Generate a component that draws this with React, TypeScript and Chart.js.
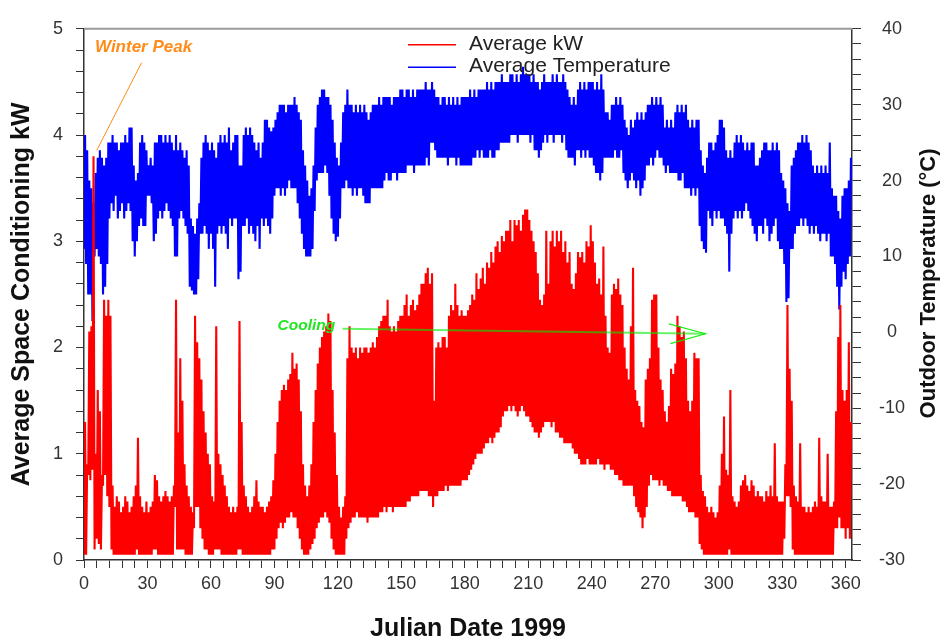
import React, { useEffect, useRef } from 'react';
import { Chart, registerables } from 'chart.js';

Chart.register(...registerables);

// ---- Data (daily envelope, day 0..362) ----
const kwHigh = [
  1.3, 0.9, 2.15, 2.2, 3.8, 1.0, 1.6, 1.4, 0.8, 2.45,
  2.3, 2.45, 2.3, 0.7, 0.5, 0.6, 0.55, 0.45, 0.5, 0.6,
  0.55, 0.45, 0.5, 0.6, 0.7, 1.15, 0.6, 0.5, 0.45, 0.55,
  0.45, 0.5, 0.55, 0.8, 0.75, 0.6, 0.55, 0.6, 0.65, 0.6,
  0.55, 0.6, 0.7, 2.45, 1.2, 1.9, 1.5, 0.9, 0.7, 0.6,
  0.5, 0.45, 2.3, 2.05, 1.9, 1.7, 1.4, 1.2, 1.0, 0.9,
  0.6, 0.55, 2.2, 1.0, 0.9, 0.8, 0.7, 0.6, 0.5, 0.45,
  0.5, 0.45, 0.5, 2.25, 1.3, 0.7, 0.6, 0.5, 0.45, 0.5,
  0.6, 0.75, 0.55, 0.5, 0.5, 0.45, 0.5, 0.55, 0.6, 0.75,
  1.0, 1.3, 1.5, 1.6, 1.65, 1.6, 1.7, 1.75, 1.95, 1.8,
  1.85, 1.7, 1.4, 0.9, 0.7, 0.6, 0.7, 0.9, 1.3, 1.6,
  1.85, 2.0, 2.1, 2.15, 2.2, 2.32, 2.25, 1.6, 1.2, 0.8,
  0.5, 0.4, 0.5, 0.6, 1.9, 2.2, 2.0, 1.95, 2.0, 1.9,
  2.0, 1.95, 2.0, 2.0, 1.95, 2.0, 2.05, 2.0, 2.1, 2.2,
  2.25, 2.3, 2.3, 2.45, 2.2, 2.15, 2.2, 2.15, 2.25, 2.3,
  2.3, 2.4, 2.5, 2.3, 2.4, 2.45, 2.35, 2.4, 2.5, 2.6,
  2.6, 2.7, 2.75, 2.6, 2.7, 1.5, 2.0, 2.05, 2.0, 2.1,
  2.1, 2.0, 2.3, 2.4, 2.35, 2.6, 2.4, 2.3, 2.35, 2.3,
  2.3, 2.35, 2.4, 2.5, 2.45, 2.7, 2.55, 2.65, 2.75, 2.6,
  2.8, 2.75, 2.9, 2.8, 2.95, 3.0, 2.9, 3.05, 3.0, 3.1,
  3.1, 3.2, 3.0, 3.2, 3.15, 3.2, 3.1, 3.25, 3.3, 3.3,
  3.2, 3.1, 3.0, 2.9, 2.7, 2.45, 2.4, 2.5, 3.1, 2.6,
  3.0, 3.1, 2.95, 3.1, 3.0, 3.1, 2.9, 3.0, 2.8, 2.9,
  2.6, 2.55, 2.7, 2.9, 2.85, 2.9, 2.8, 3.0, 2.95, 3.15,
  3.0, 2.8, 2.6, 2.65, 2.5, 2.95, 2.3, 2.0, 1.95, 2.5,
  2.6, 2.55, 2.65, 2.5, 2.4, 2.0, 1.8, 1.7, 2.2, 2.75,
  1.6, 1.5, 1.45, 1.3, 1.25, 1.7, 1.8, 1.9, 2.45, 2.5,
  2.5, 2.0, 1.7, 1.6, 1.4, 1.3, 1.45, 1.8, 1.75, 1.85,
  2.3, 2.2, 2.1, 2.15, 1.9, 1.5, 1.4, 1.5, 1.95, 1.9,
  1.9, 0.8, 0.65, 0.6, 0.5, 0.45, 0.5, 0.45, 0.4, 0.45,
  0.7, 1.0, 1.35, 0.85, 0.8, 1.6, 0.6, 0.55, 0.5, 0.55,
  0.7, 0.75, 0.8, 0.7, 0.65, 0.75, 0.7, 0.6, 0.65, 0.6,
  0.6, 0.55, 0.65, 0.6, 0.7, 0.6, 1.1, 0.6, 0.55, 0.55,
  0.55, 0.9, 2.4, 1.8, 1.5, 0.7, 0.6, 0.55, 1.1, 0.5,
  0.5, 0.45, 0.5, 0.45, 0.5, 0.55, 0.5, 1.15, 0.6, 0.55,
  0.55, 1.0, 0.5, 0.5, 0.55, 1.4, 2.1, 2.4, 1.6, 1.5,
  1.6, 2.05, 1.3,
];

const kwLow = [
  0.05, 0.05, 0.8, 0.75, 0.85, 0.1, 0.2, 0.15, 0.1, 0.7,
  0.8, 0.6, 0.5, 0.1, 0.05, 0.05, 0.05, 0.05, 0.05, 0.05,
  0.05, 0.05, 0.05, 0.05, 0.05, 0.1, 0.05, 0.05, 0.05, 0.05,
  0.05, 0.05, 0.05, 0.1, 0.1, 0.05, 0.05, 0.05, 0.05, 0.05,
  0.05, 0.05, 0.05, 0.5, 0.1, 0.1, 0.1, 0.1, 0.05, 0.05,
  0.05, 0.05, 0.3, 0.5, 0.5, 0.3, 0.2, 0.1, 0.1, 0.05,
  0.05, 0.05, 0.1, 0.1, 0.1, 0.05, 0.05, 0.05, 0.05, 0.05,
  0.05, 0.05, 0.05, 0.1, 0.1, 0.05, 0.05, 0.05, 0.05, 0.05,
  0.05, 0.05, 0.05, 0.05, 0.05, 0.05, 0.05, 0.05, 0.05, 0.1,
  0.1, 0.2, 0.3, 0.35, 0.3, 0.35, 0.4, 0.4, 0.45, 0.4,
  0.4, 0.3, 0.2, 0.1, 0.05, 0.05, 0.05, 0.1, 0.15, 0.2,
  0.3, 0.35, 0.4, 0.4, 0.45, 0.4, 0.35, 0.2, 0.1, 0.05,
  0.05, 0.05, 0.05, 0.05, 0.2, 0.3, 0.35, 0.4, 0.4, 0.45,
  0.4, 0.4, 0.4, 0.4, 0.35, 0.4, 0.4, 0.4, 0.4, 0.4,
  0.45, 0.45, 0.5, 0.45, 0.5, 0.5, 0.45, 0.5, 0.5, 0.5,
  0.5, 0.5, 0.5, 0.55, 0.55, 0.6, 0.6, 0.6, 0.6, 0.65,
  0.65, 0.65, 0.65, 0.6, 0.6, 0.5, 0.6, 0.6, 0.65, 0.65,
  0.65, 0.7, 0.65, 0.7, 0.7, 0.7, 0.7, 0.7, 0.7, 0.75,
  0.75, 0.75, 0.8, 0.85, 0.9, 0.95, 1.0, 1.0, 1.0, 1.05,
  1.1, 1.1, 1.15, 1.1, 1.15, 1.2, 1.2, 1.25, 1.35, 1.4,
  1.4, 1.45, 1.4, 1.45, 1.4, 1.35, 1.4, 1.45, 1.4, 1.35,
  1.35, 1.3, 1.25, 1.2, 1.2, 1.15, 1.2, 1.25, 1.3, 1.3,
  1.3, 1.25, 1.3, 1.2, 1.2, 1.15, 1.15, 1.1, 1.1, 1.1,
  1.1, 1.05, 1.0, 1.0, 0.95, 0.9, 0.9, 0.9, 0.95, 0.9,
  0.9, 0.9, 0.9, 0.95, 0.9, 0.9, 0.85, 0.9, 0.9, 0.85,
  0.85, 0.8, 0.8, 0.75, 0.75, 0.7, 0.7, 0.7, 0.7, 0.7,
  0.6, 0.5, 0.45, 0.4, 0.3, 0.4, 0.5, 0.7, 0.8, 0.75,
  0.75, 0.75, 0.7, 0.75, 0.7, 0.7, 0.65, 0.65, 0.6, 0.6,
  0.6, 0.6, 0.6, 0.55, 0.55, 0.5, 0.45, 0.45, 0.45, 0.4,
  0.4, 0.15, 0.1, 0.05, 0.05, 0.05, 0.05, 0.05, 0.05, 0.05,
  0.05, 0.05, 0.05, 0.05, 0.05, 0.1, 0.05, 0.05, 0.05, 0.05,
  0.05, 0.05, 0.05, 0.05, 0.05, 0.05, 0.05, 0.05, 0.05, 0.05,
  0.05, 0.05, 0.05, 0.05, 0.05, 0.05, 0.05, 0.05, 0.05, 0.05,
  0.05, 0.2, 0.6, 0.6, 0.5, 0.1, 0.05, 0.05, 0.05, 0.05,
  0.05, 0.05, 0.05, 0.05, 0.05, 0.05, 0.05, 0.05, 0.05, 0.05,
  0.05, 0.05, 0.05, 0.05, 0.05, 0.3, 0.3, 0.4, 0.3, 0.3,
  0.2, 0.3, 0.2,
];

const tempHigh = [
  26, 24, 20, 19, 17, 21, 23, 24, 23, 22,
  23, 25, 25, 26, 25, 25, 24, 25, 25, 26,
  25, 27, 27, 22, 20, 21, 25, 26, 25, 24,
  22, 23, 22, 25, 25, 26, 26, 25, 26, 25,
  26, 25, 24, 26, 24, 25, 24, 23, 24, 22,
  15, 14, 13, 15, 17, 23, 25, 26, 25, 24,
  25, 24, 23, 25, 26, 25, 26, 25, 27, 24,
  25, 26, 26, 22, 22, 26, 27, 26, 27, 26,
  25, 24, 25, 23, 25, 28, 28, 27, 26.5, 27,
  28, 29, 30, 30, 30, 29, 30, 30, 30, 31,
  30, 29, 28, 24, 22, 20, 18, 19, 22, 27,
  30, 31, 32, 32, 31, 31, 30, 28, 25, 23,
  22, 25, 29, 30, 32, 30, 30, 29, 30, 29,
  30, 29, 30, 29, 28, 29, 30, 30, 30, 31,
  30, 31, 31, 31, 31, 30, 31, 31, 31, 32,
  32, 31, 32, 32, 31, 32, 31, 32, 32, 32,
  32, 33, 32, 32, 33, 32, 31, 31, 30, 31,
  31, 30, 31, 30, 31, 30, 31, 30, 31, 31,
  31, 31, 32, 31, 32, 31, 32, 32, 32, 32,
  33, 32, 33, 32, 33, 33, 33, 34, 33, 33,
  33, 34, 34, 33, 34, 33, 34, 35, 34, 34,
  34, 33, 34, 33, 33, 32, 33, 34, 33, 33,
  33, 34, 33, 34, 33, 33, 34, 33, 32, 31,
  30, 31, 30, 32, 33, 32, 33, 32, 33, 33,
  33, 32, 33, 32, 34, 32, 29, 29, 28, 30,
  30, 31, 30, 31, 30, 28, 27, 26, 28, 27,
  28, 29, 28, 29, 28, 29, 30, 30, 31, 30,
  31, 30, 31, 30, 27, 28, 27, 28, 27, 29,
  30, 29, 30, 29, 30, 28, 27, 28, 27, 28,
  28, 24, 22, 21, 23, 25, 25, 24, 25, 26,
  28, 28, 27, 24, 23, 24, 23, 25, 26, 25,
  26, 25, 24, 25, 24, 25, 25, 22, 22, 23,
  24, 25, 25, 24, 24, 25, 24, 25, 24, 21,
  20, 19, 17, 16, 22, 23, 24, 25, 25, 26,
  25, 26, 25, 24, 22, 21, 22, 21, 22, 21,
  22, 21, 25, 19, 18, 18, 16, 15, 18, 19,
  19, 20, 23,
];

const tempLow = [
  11, 9, 5, 5, 1.5, 10, 11, 10, 9, 5,
  6, 9, 15, 17, 16, 18, 15, 16, 17, 15,
  16, 17, 16, 12, 10, 12, 14, 15, 14, 14,
  18, 18, 17, 12, 13, 15, 16, 15, 16, 17,
  16, 15, 14, 10, 10, 15, 16, 15, 14, 13,
  6, 5.5, 5, 5, 7, 13, 13, 14, 13, 11,
  13, 11, 6, 13, 14, 13, 14, 13, 11, 15,
  14, 15, 15, 7, 8, 14, 14, 15, 13, 14,
  13, 12, 14, 11, 15, 14, 15, 14, 13, 15,
  18, 19, 19, 18, 19, 18, 19, 20, 19, 19,
  19, 17, 15, 13, 11, 10, 10, 10, 11, 16,
  20, 21, 21, 21, 22, 21, 18, 15, 13, 12,
  12.6, 15, 19, 19, 20, 19, 19, 18, 19, 18,
  19, 19, 18, 17, 17, 17, 19, 19, 19, 19,
  19, 19, 20, 21, 20, 20, 21, 21, 20, 21,
  21, 21, 21, 22, 22, 22, 21, 22, 22, 22,
  22, 22, 23, 22, 25, 25, 24, 23, 23, 23,
  23, 23, 22, 23, 23, 23, 22, 23, 22, 22,
  22, 22, 22, 22, 23, 23, 24, 23, 24, 23,
  23, 23, 24, 23, 23, 24, 24, 25, 25, 25,
  25, 25, 26, 26, 26, 25, 26, 26, 26, 26,
  26, 25, 26, 24, 24, 23, 24, 25, 26, 25,
  26, 26, 25, 26, 26, 26, 25, 26, 24, 23,
  23, 23, 22, 24, 24, 23, 24, 23, 24, 23,
  23, 22, 21, 21, 20, 21, 23, 23, 23, 23,
  23, 24, 23, 23, 24, 21, 20, 19, 20, 21,
  20, 19, 20, 18, 19, 20, 22, 22, 23, 22,
  23, 24, 23, 23, 22, 21, 22, 21, 21, 21,
  21, 20, 20, 21, 19, 19, 19, 18, 19, 18,
  19, 14, 12, 11, 10.5, 16, 15, 14, 16, 15,
  16, 15, 15, 14, 13, 8, 13, 15, 16, 15,
  16, 15, 16, 17, 16, 15, 14, 13, 12, 14,
  14, 13, 15, 14, 12, 13, 14, 15, 12, 11,
  11, 9, 4, 4.5, 11, 11, 13, 14, 14, 15,
  14, 15, 14, 13, 14, 13, 14, 13, 12, 13,
  13, 12, 13, 10, 10, 9, 6, 3, 6, 8,
  7, 9, 10,
];

// Axis ranges
const xRange = [0, 363];
const kwRange = [0, 5];
const tempRange = [-30, 40];

// Annotations in data units (day, kW)
const winterPeakText = { day: 5.2, kw: 4.84 };
const winterPeakLine = [
  { day: 27.2, kw: 4.68 },
  { day: 6.0, kw: 3.855 },
];
const coolingText = { day: 91.5, kw: 2.21 };
const coolingLine = [
  { day: 122.2, kw: 2.176 },
  { day: 293.7, kw: 2.13 },
];
const coolingHeadTop = { day: 276.4, kw: 2.223 };
const coolingHeadBottom = { day: 277.2, kw: 2.036 };

const FONT = '"Liberation Sans", Arial, Helvetica, sans-serif';

function zigzag(lo: number[], hi: number[]) {
  const pts: { x: number; y: number }[] = [];
  lo.forEach((l, i) => {
    pts.push({ x: i, y: l });
    pts.push({ x: i + 0.5, y: hi[i] });
  });
  return pts;
}

const overlayPlugin = {
  id: 'overlay',
  afterDatasetsDraw(chart: any) {
    const { ctx, chartArea, scales } = chart;
    const xs = scales.x;
    const ys = scales.y;
    const px = (d: number) => xs.getPixelForValue(d);
    const py = (k: number) => ys.getPixelForValue(k);
    ctx.save();

    // top frame
    ctx.strokeStyle = '#9a9a9a';
    ctx.lineWidth = 2;
    ctx.beginPath();
    ctx.moveTo(chartArea.left, chartArea.top);
    ctx.lineTo(chartArea.right, chartArea.top);
    ctx.stroke();

    // Winter peak annotation
    ctx.strokeStyle = '#ff8c1a';
    ctx.lineWidth = 1;
    ctx.beginPath();
    ctx.moveTo(px(winterPeakLine[0].day), py(winterPeakLine[0].kw));
    ctx.lineTo(px(winterPeakLine[1].day), py(winterPeakLine[1].kw));
    ctx.stroke();
    ctx.fillStyle = '#ff8c1a';
    ctx.font = `italic bold 17px ${FONT}`;
    ctx.textBaseline = 'alphabetic';
    ctx.textAlign = 'left';
    ctx.fillText('Winter Peak', px(winterPeakText.day), py(winterPeakText.kw) + 6);

    // Cooling annotation
    ctx.strokeStyle = 'rgba(0, 235, 0, 0.6)';
    ctx.lineWidth = 2;
    ctx.beginPath();
    ctx.moveTo(px(coolingLine[0].day), py(coolingLine[0].kw));
    ctx.lineTo(px(coolingLine[1].day), py(coolingLine[1].kw));
    ctx.stroke();
    ctx.lineWidth = 1.2;
    ctx.strokeStyle = 'rgba(0, 235, 0, 0.9)';
    ctx.beginPath();
    ctx.moveTo(px(coolingHeadTop.day), py(coolingHeadTop.kw));
    ctx.lineTo(px(coolingLine[1].day), py(coolingLine[1].kw));
    ctx.lineTo(px(coolingHeadBottom.day), py(coolingHeadBottom.kw));
    ctx.stroke();
    ctx.fillStyle = '#22e622';
    ctx.font = `italic bold 15.5px ${FONT}`;
    ctx.fillText('Cooling', px(coolingText.day), py(coolingText.kw) + 5);

    // Legend
    const items = [
      { label: 'Average kW', color: '#ff0000', y: chartArea.top + 16 },
      { label: 'Average Temperature', color: '#0000ff', y: chartArea.top + 38.5 },
    ];
    ctx.font = `21px ${FONT}`;
    items.forEach((it) => {
      ctx.strokeStyle = it.color;
      ctx.lineWidth = 1.5;
      ctx.beginPath();
      ctx.moveTo(chartArea.left + 324, it.y);
      ctx.lineTo(chartArea.left + 372, it.y);
      ctx.stroke();
      ctx.fillStyle = '#222';
      ctx.fillText(it.label, chartArea.left + 385, it.y + 5);
    });

    // Right axis title (reads bottom to top)
    ctx.save();
    ctx.translate(chart.width - 16, (chartArea.top + chartArea.bottom) / 2 - 11);
    ctx.rotate(-Math.PI / 2);
    ctx.textAlign = 'center';
    ctx.textBaseline = 'middle';
    ctx.font = `bold 22px ${FONT}`;
    ctx.fillStyle = '#111';
    ctx.fillText('Outdoor Temperature (\u00B0C)', 0, 0);
    ctx.restore();

    ctx.restore();
  },
};

export default function App() {
  const ref = useRef<HTMLCanvasElement | null>(null);

  useEffect(() => {
    if (!ref.current) return;
    Chart.defaults.font.family = FONT;
    const axisColor = '#333';
    const chart = new Chart(ref.current, {
      type: 'line',
      data: {
        datasets: [
          {
            label: 'Average kW',
            data: zigzag(kwLow, kwHigh),
            borderColor: '#ff0000',
            borderWidth: 2.1,
            pointRadius: 0,
            tension: 0,
            yAxisID: 'y',
          },
          {
            label: 'Average Temperature',
            data: zigzag(tempLow, tempHigh),
            borderColor: '#0000ff',
            borderWidth: 2.1,
            pointRadius: 0,
            tension: 0,
            yAxisID: 'y2',
          },
        ],
      },
      options: {
        animation: false,
        responsive: false,
        parsing: false as any,
        normalized: true,
        layout: { padding: { top: 24, left: 0, right: 0, bottom: 0 } },
        plugins: {
          legend: { display: false },
          tooltip: { enabled: false },
        },
        scales: {
          x: {
            type: 'linear',
            min: xRange[0],
            max: xRange[1],
            afterFit: (s: any) => {
              s.height = 82;
            },
            ticks: {
              stepSize: 6,
              includeBounds: false,
              autoSkip: false,
              maxRotation: 0,
              padding: 5,
              color: axisColor,
              font: { size: 18 },
              callback: (v: any) => (Number(v) % 30 === 0 ? String(v) : ''),
            },
            grid: {
              display: true,
              drawOnChartArea: false,
              drawTicks: true,
              tickLength: 8,
              color: axisColor,
            },
            border: { display: true, color: axisColor, width: 1.5 },
            title: {
              display: true,
              text: 'Julian Date 1999',
              color: '#111',
              font: { size: 25, weight: 'bold', lineHeight: 1 },
              padding: { top: 0, bottom: 0 },
            },
          },
          y: {
            type: 'linear',
            position: 'left',
            min: kwRange[0],
            max: kwRange[1],
            afterFit: (s: any) => {
              s.width = 84;
            },
            ticks: {
              stepSize: 0.2,
              includeBounds: false,
              autoSkip: false,
              padding: 13,
              color: axisColor,
              font: { size: 18 },
              callback: (v: any) => {
                const n = Number(v);
                return Math.abs(n - Math.round(n)) < 1e-6 ? String(Math.round(n)) : '';
              },
            },
            grid: {
              display: true,
              drawOnChartArea: false,
              drawTicks: true,
              tickLength: 8,
              color: axisColor,
            },
            border: { display: true, color: axisColor, width: 1.5 },
            title: {
              display: true,
              text: 'Average Space Conditioning kW',
              color: '#111',
              font: { size: 25, weight: 'bold', lineHeight: 1 },
              padding: { top: 10, bottom: 0 },
            },
          },
          y2: {
            type: 'linear',
            position: 'right',
            min: tempRange[0],
            max: tempRange[1],
            afterFit: (s: any) => {
              s.width = 93;
            },
            ticks: {
              stepSize: 2,
              includeBounds: false,
              autoSkip: false,
              padding: 18,
              crossAlign: 'center',
              color: axisColor,
              font: { size: 18 },
              callback: (v: any) => (Number(v) % 10 === 0 ? String(v) : ''),
            },
            grid: {
              display: true,
              drawOnChartArea: false,
              drawTicks: true,
              tickLength: 9,
              color: axisColor,
            },
            border: { display: true, color: axisColor, width: 1.5 },
          },
        },
      },
      plugins: [overlayPlugin],
    } as any);
    return () => chart.destroy();
  }, []);

  return (
    <div style={{ position: 'absolute', left: 0, top: 0, width: 945, height: 642, background: '#fff' }}>
      <canvas ref={ref} width={945} height={642} />
    </div>
  );
}
